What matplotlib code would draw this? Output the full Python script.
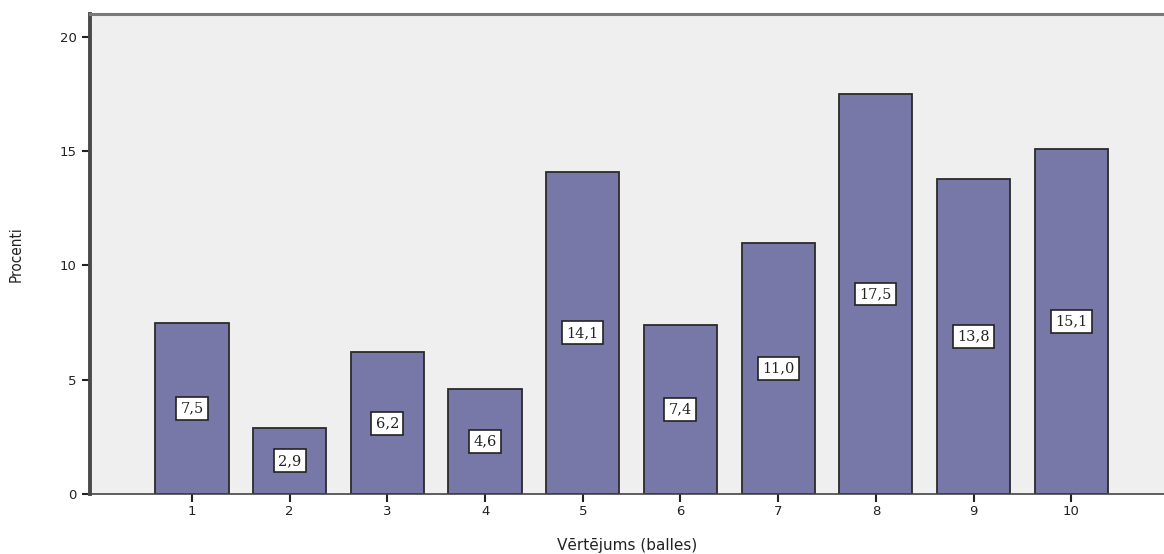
import matplotlib.pyplot as plt

balles = [1, 2, 3, 4, 5, 6, 7, 8, 9, 10]
procenti = [7.5, 2.9, 6.2, 4.6, 14.1, 7.4, 11.0, 17.5, 13.8, 15.1]
y_ticks = [0, 5, 10, 15, 20]

fig = plt.figure(figsize=(11.64, 5.54), dpi=100)
ax = fig.add_axes([0.0773, 0.1083, 0.9227, 0.8664])
ax.set_facecolor('#efefef')

bars = ax.bar(balles, procenti, width=0.75, color='#7878a8',
              edgecolor='#2a2a2a', linewidth=1.3, zorder=2)

# value labels in white boxes at half height of each bar
for b, v in zip(bars, procenti):
    ax.text(b.get_x() + b.get_width() / 2, v / 2, f'{v:.1f}'.replace('.', ','),
            ha='center', va='center', fontsize=10.5, family='DejaVu Serif',
            color='#222222', zorder=3,
            bbox=dict(boxstyle='square,pad=0.3', fc='white', ec='#222222', lw=1.2))

ax.set_xlim(-0.045, 10.95)
ax.set_ylim(0, 21)
ax.set_xticks(balles)
ax.set_yticks(y_ticks)
ax.tick_params(axis='both', labelsize=9.5, colors='#222222', width=1.5, length=6)
ax.tick_params(axis='x', pad=2)

ax.spines['right'].set_visible(False)
ax.spines['left'].set_linewidth(2.8)
ax.spines['left'].set_color('#4a4a4a')
ax.spines['top'].set_linewidth(2.2)
ax.spines['top'].set_color('#7a7a7a')
ax.spines['bottom'].set_linewidth(1.2)
ax.spines['bottom'].set_color('#444444')

ax.set_xlabel('Vērtējums (balles)', fontsize=11, color='#222222', labelpad=14)
ax.set_ylabel('Procenti', fontsize=11, color='#222222', labelpad=26,
              family='DejaVu Sans', fontstretch='condensed')

fig.savefig('out.png', dpi=100)
